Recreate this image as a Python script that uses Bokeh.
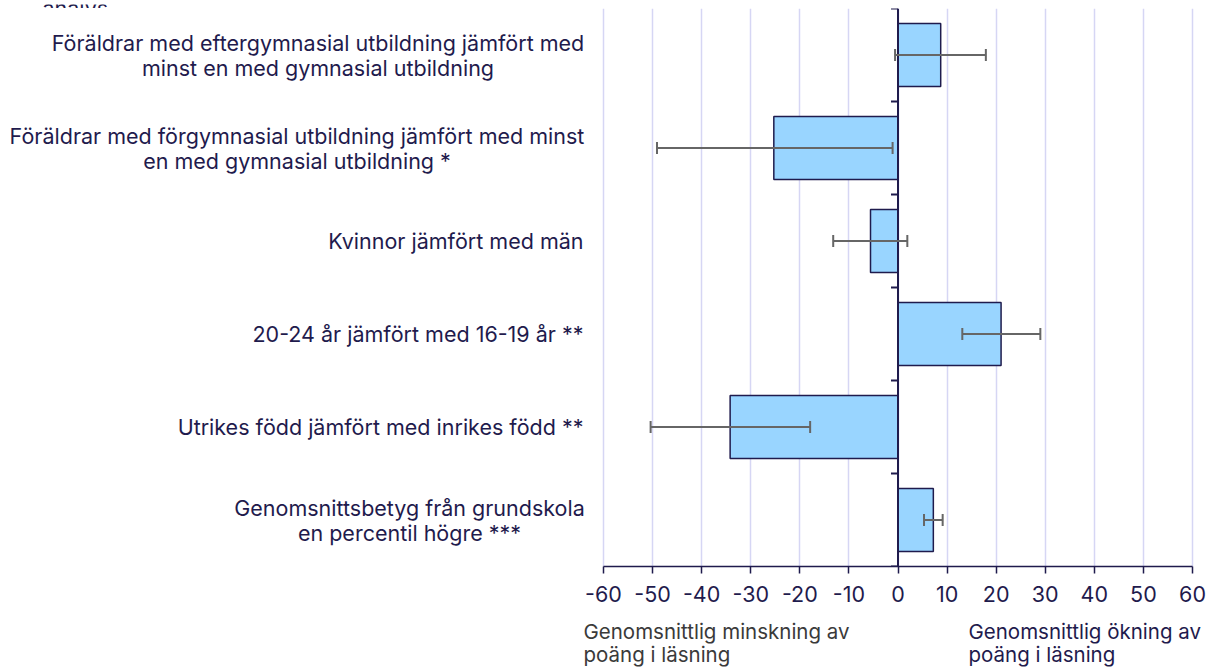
from bokeh.plotting import figure
from bokeh.layouts import column
from bokeh.models import ColumnDataSource, Whisker, TeeHead, Span, FixedTicker, CustomJSTickFormatter
from bokeh.core.properties import value
from bokeh.embed import file_html
from bokeh.resources import INLINE

# ---- data ----
label_lines = [
    ["Föräldrar med eftergymnasial utbildning jämfört med", "minst en med gymnasial utbildning"],
    ["Föräldrar med förgymnasial utbildning jämfört med minst", "en med gymnasial utbildning *"],
    ["Kvinnor jämfört med män"],
    ["20-24 år jämfört med 16-19 år **"],
    ["Utrikes född jämfört med inrikes född **"],
    ["Genomsnittsbetyg från grundskola", "en percentil högre ***"],
]
values = [8.7, -25.3, -5.6, 21.0, -34.2, 7.2]
ci_low = [-0.6, -49.1, -13.2, 13.1, -50.4, 5.3]
ci_high = [17.9, -1.1, 1.9, 29.0, -17.9, 9.1]
x_ticks = [-60, -50, -40, -30, -20, -10, 0, 10, 20, 30, 40, 50, 60]
bottom_left_lines = ["Genomsnittlig minskning av", "poäng i läsning"]
bottom_right_lines = ["Genomsnittlig ökning av", "poäng i läsning"]
top_fragment = "analys"

# ---- style / layout ----
NAVY = "#1f1b4d"
FONT = value("Inter")
FSPX = "21.5px"
FS = value(FSPX)
FS_BOT = value("20.5px")
W = 1218
AX_LEFT, AX_RIGHT = 603, 1192          # pixel extent of the -60..60 axis
MAIN_H, FRAME_H = 600, 558
ppu = (AX_RIGHT - AX_LEFT) / 120.0
x_start = -60 - AX_LEFT / ppu
x_end = 60 + (W - AX_RIGHT) / ppu


def px2x(px):
    return x_start + px / ppu


n = len(values)
ys = [n - 0.5 - i for i in range(n)]
src = ColumnDataSource(dict(y=ys, v=values, lo=ci_low, hi=ci_high))


def blank(fig):
    fig.outline_line_color = None
    fig.xgrid.grid_line_color = None
    fig.ygrid.grid_line_color = None
    return fig


# top strip (cut-off title fragment)
top = figure(width=W, height=8, x_range=(0, W), y_range=(8, 0),
             output_backend="svg", toolbar_location=None,
             x_axis_location=None, y_axis_location=None, min_border=0)
blank(top)
top.text(x=[42], y=[3], text=[top_fragment], text_font=FONT, text_font_size=FS,
         text_color=NAVY, text_baseline="alphabetic", text_align="left")

# main chart
p = figure(width=W, height=MAIN_H, x_range=(x_start, x_end), y_range=(0, n),
           output_backend="svg", toolbar_location=None, y_axis_location=None,
           min_border=0, min_border_bottom=MAIN_H - FRAME_H)
p.outline_line_color = None
p.ygrid.grid_line_color = None
p.xgrid.ticker = FixedTicker(ticks=x_ticks)
p.xgrid.grid_line_color = "#d6d6f4"
p.xgrid.grid_line_width = 1.5

ax = p.xaxis[0]
ax.ticker = FixedTicker(ticks=x_ticks)
ax.bounds = (-60, 60)
ax.formatter = CustomJSTickFormatter(code="return String(tick)")
ax.axis_line_color = NAVY
ax.axis_line_width = 1.5
ax.major_tick_line_color = NAVY
ax.major_tick_line_width = 1.5
ax.major_tick_out = 7
ax.major_tick_in = 0
ax.minor_tick_line_color = None
ax.major_label_text_font = "Inter"
ax.major_label_text_font_size = FSPX
ax.major_label_text_color = NAVY
ax.major_label_standoff = 12

p.hbar(y="y", right="v", left=0, height=0.68, source=src,
       fill_color="#99d5ff", line_color=NAVY, line_width=1.5)

p.add_layout(Span(location=0, dimension="height", line_color=NAVY, line_width=2))
p.ray(x=[0] * (n + 1), y=list(range(n + 1)), length=7, length_units="screen",
      angle=3.14159265, line_color=NAVY, line_width=2)

w = Whisker(source=src, base="y", lower="lo", upper="hi", dimension="width",
            line_color="#666666", line_width=2, level="annotation",
            upper_head=TeeHead(size=12, line_color="#666666", line_width=2),
            lower_head=TeeHead(size=12, line_color="#666666", line_width=2))
p.add_layout(w)

# category labels: lines centred on each other, block right-aligned at px 583
centers_px = [317.5, 296.5, None, None, None, 409]
for i, lines in enumerate(label_lines):
    if len(lines) == 1:
        p.text(x=[px2x(583)], y=[ys[i]], text=[lines[0]], text_align="right",
               text_baseline="middle", text_font=FONT, text_font_size=FS,
               text_color=NAVY)
    else:
        for j, t in enumerate(lines):
            p.text(x=[px2x(centers_px[i])], y=[ys[i]], y_offset=-12.5 + 25 * j,
                   text=[t], text_align="center", text_baseline="middle",
                   text_font=FONT, text_font_size=FS, text_color=NAVY)

# bottom strip with explanatory labels
bot = figure(width=W, height=60, x_range=(0, W), y_range=(60, 0),
             output_backend="svg", toolbar_location=None,
             x_axis_location=None, y_axis_location=None, min_border=0)
blank(bot)
bot.text(x=[583, 583], y=[23, 46], text=bottom_left_lines, text_align="left",
         text_baseline="middle", text_font=FONT, text_font_size=FS_BOT, text_color="#3a3a3a")
bot.text(x=[968, 968], y=[23, 46], text=bottom_right_lines, text_align="left",
         text_baseline="middle", text_font=FONT, text_font_size=FS_BOT, text_color=NAVY)

layout = column(top, p, bot, spacing=0)
open("out.html", "w").write(file_html(layout, INLINE))
